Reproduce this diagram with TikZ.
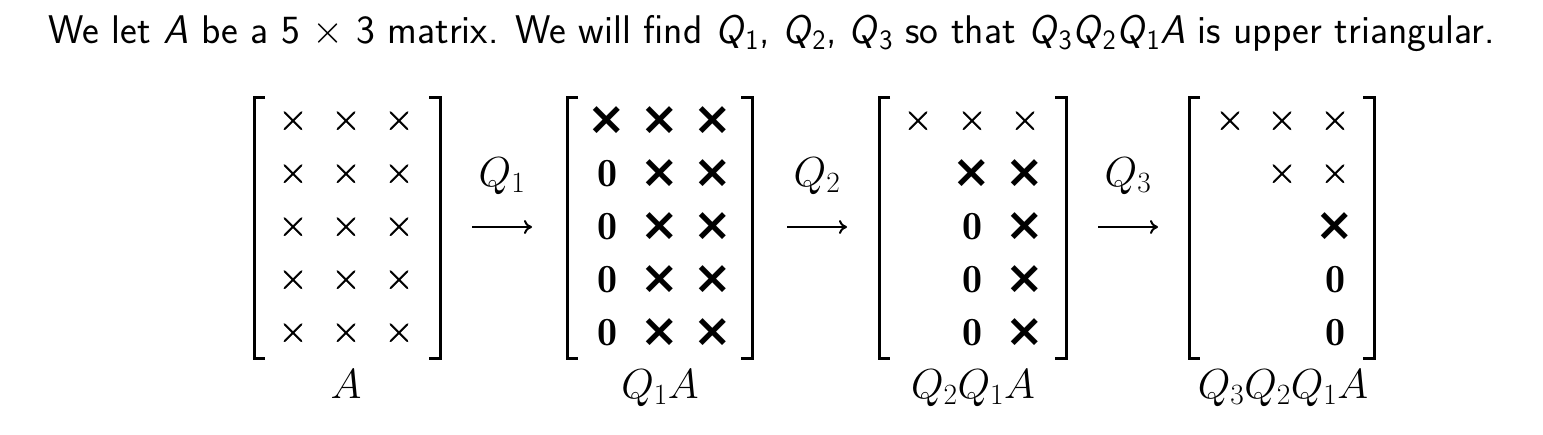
\documentclass[tikz,border=0pt]{standalone}
\usepackage{fix-cm}
\usepackage{amsmath}
\usepackage{fontspec}
\newfontfamily\dvs{DejaVu Sans}
\newfontfamily\lmx{Latin Modern Roman}[FakeBold=1.5]
\usetikzlibrary{arrows.meta}
\newcommand\sq[1]{\textit{Q}${}_{\textsf{#1}}$}
\tikzset{
  ent/.style={inner sep=0pt, font=\fontsize{40}{48}\selectfont},
  brk/.style={line width=3pt, line cap=butt},
  lab/.style={anchor=base, inner sep=0pt, font=\fontsize{42}{50}\selectfont},
  arr/.style={line width=2pt, -{Computer Modern Rightarrow[length=8pt,width=14pt]}},
  head/.style={anchor=base, inner sep=0pt, font=\sffamily\fontsize{40}{48}\selectfont},
}
\newcommand\X{{\lmx\fontsize{40}{48}\selectfont ×}}
\newcommand\BX{{\dvs\bfseries\fontsize{46}{48}\selectfont ×}}
\newcommand\BZ{$\mathbf{0}$}
\begin{document}
\begin{tikzpicture}[x=1pt,y=-1pt]
\useasboundingbox (0,0) rectangle (1543,434);
\node[head] (title) at (771.5,43) {We let \textit{A} be a 5 $\times$ 3 matrix. We will find \sq1, \sq2, \sq3 so that \sq3\sq2\sq1\textit{A} is upper triangular.};
% brackets
\foreach \l/\r in {254/440, 567/752, 879/1066, 1189/1374} {
  \draw[brk] (\l+11,97) -- (\l,97) -- (\l,358) -- (\l+11,358);
  \draw[brk] (\r-11,97) -- (\r,97) -- (\r,358) -- (\r-11,358);
}
% matrix 1
\foreach \r/\y in {1/121,2/174,3/227,4/280,5/333}
  \foreach \c/\x in {1/293,2/346,3/399}
    \node[ent] (A-\r-\c) at (\x,\y) {\X};
% matrix 2
\node[ent] (B-1-1) at (607,121) {\BX};
\foreach \r/\y in {2/174,3/227,4/280,5/333}
  \node[ent] (B-\r-1) at (607,\y) {\BZ};
\foreach \r/\y in {1/121,2/174,3/227,4/280,5/333}
  \foreach \c/\x in {2/660,3/713}
    \node[ent] (B-\r-\c) at (\x,\y) {\BX};
% matrix 3
\foreach \c/\x in {1/918,2/972,3/1025}
  \node[ent] (C-1-\c) at (\x,121) {\X};
\node[ent] (C-2-2) at (972,174) {\BX};
\node[ent] (C-2-3) at (1025,174) {\BX};
\foreach \r/\y in {3/227,4/280,5/333} {
  \node[ent] (C-\r-2) at (972,\y) {\BZ};
  \node[ent] (C-\r-3) at (1025,\y) {\BX};
}
% matrix 4
\foreach \c/\x in {1/1230,2/1282,3/1335}
  \node[ent] (D-1-\c) at (\x,121) {\X};
\node[ent] (D-2-2) at (1282,174) {\X};
\node[ent] (D-2-3) at (1335,174) {\X};
\node[ent] (D-3-3) at (1335,227) {\BX};
\node[ent] (D-4-3) at (1335,280) {\BZ};
\node[ent] (D-5-3) at (1335,333) {\BZ};
% labels
\node[lab] (lA) at (346,398) {$A$};
\node[lab] (lB) at (660,398) {$Q_1A$};
\node[lab] (lC) at (973,398) {$Q_2Q_1A$};
\node[lab] (lD) at (1283,398) {$Q_3Q_2Q_1A$};
% arrows
\coordinate (a1s) at (472,227); \coordinate (a1e) at (532,227);
\coordinate (a2s) at (787,227); \coordinate (a2e) at (847,227);
\coordinate (a3s) at (1098,227); \coordinate (a3e) at (1158,227);
\draw[arr] (a1s) -- (a1e);
\draw[arr] (a2s) -- (a2e);
\draw[arr] (a3s) -- (a3e);
\node[lab] (q1) at (502,186) {$Q_1$};
\node[lab] (q2) at (817,186) {$Q_2$};
\node[lab] (q3) at (1128,186) {$Q_3$};
\end{tikzpicture}
\end{document}
